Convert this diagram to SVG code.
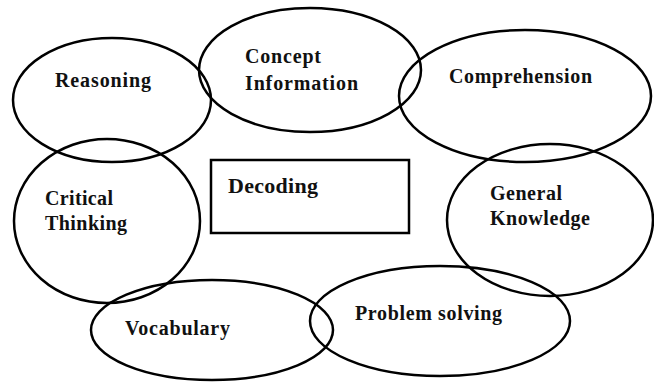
<svg xmlns="http://www.w3.org/2000/svg" width="654" height="383" viewBox="0 0 654 383">
<style>
.n{fill:none;stroke:#000;stroke-width:2.5}
.t{font-family:"Liberation Serif","Times New Roman",serif;font-weight:bold;font-size:20px;fill:#111}
.d{font-family:"Liberation Serif","Times New Roman",serif;font-weight:bold;font-size:22px;fill:#111}
</style>
<rect width="654" height="383" fill="#fff"/>
<g id="connectors"></g>
<g id="reasoning"><ellipse class="n" cx="112" cy="100" rx="99" ry="62"/><text class="t" x="55" y="87" textLength="96" lengthAdjust="spacing">Reasoning</text></g>
<g id="concept"><ellipse class="n" cx="310" cy="70" rx="111" ry="62"/><text class="t" x="245" y="63" textLength="76" lengthAdjust="spacing">Concept</text><text class="t" x="245" y="90" textLength="113" lengthAdjust="spacing">Information</text></g>
<g id="comprehension"><ellipse class="n" cx="525" cy="96" rx="126" ry="66"/><text class="t" x="449" y="83" textLength="143" lengthAdjust="spacing">Comprehension</text></g>
<g id="critical"><ellipse class="n" cx="107" cy="221" rx="93" ry="82"/><text class="t" x="45" y="205" textLength="68" lengthAdjust="spacing">Critical</text><text class="t" x="45" y="230" textLength="82" lengthAdjust="spacing">Thinking</text></g>
<g id="decoding"><rect class="n" x="211" y="160" width="198" height="73"/><text class="d" x="228" y="193" textLength="90" lengthAdjust="spacing">Decoding</text></g>
<g id="general"><ellipse class="n" cx="550" cy="220" rx="103" ry="76"/><text class="t" x="490" y="200" textLength="72" lengthAdjust="spacing">General</text><text class="t" x="490" y="225" textLength="100" lengthAdjust="spacing">Knowledge</text></g>
<g id="vocabulary"><ellipse class="n" cx="212" cy="330" rx="121" ry="50"/><text class="t" x="125" y="335" textLength="105" lengthAdjust="spacing">Vocabulary</text></g>
<g id="problem"><ellipse class="n" cx="440" cy="321" rx="130" ry="55"/><text class="t" x="355" y="320" textLength="147" lengthAdjust="spacing">Problem solving</text></g>
</svg>
